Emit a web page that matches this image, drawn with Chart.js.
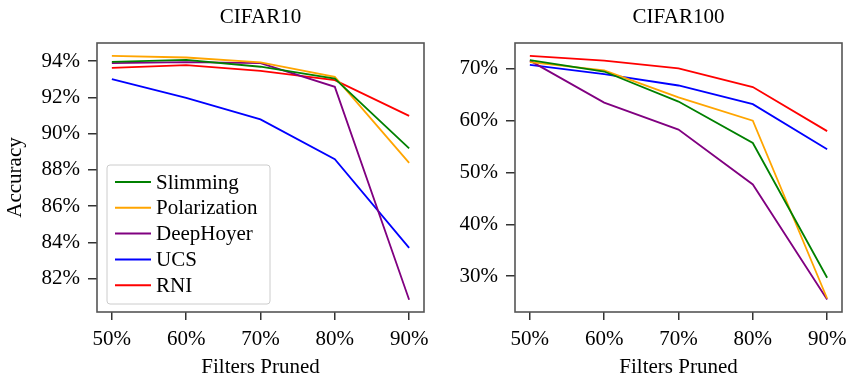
<!DOCTYPE html>
<html>
<head>
<meta charset="utf-8">
<script src="https://cdn.jsdelivr.net/npm/chart.js@4.4.1/dist/chart.umd.min.js"></script>
<style>
  html, body { margin: 0; padding: 0; background: #fff; }
  #wrap { position: relative; width: 847px; height: 374px; }
  canvas { position: absolute; top: 0; }
</style>
</head>
<body>
<div id="wrap">
  <canvas id="left" width="430" height="374" style="left:0"></canvas>
  <canvas id="right" width="417" height="374" style="left:430px"></canvas>
</div>
<script>
// fraction of filters pruned (%)
const pruned = [50, 60, 70, 80, 90];
const methods = ['Slimming', 'Polarization', 'DeepHoyer', 'UCS', 'RNI'];
const colors = ['#008000', '#ffa500', '#800080', '#0000ff', '#ff0000'];

// CIFAR10 accuracy (%)
const c10Slimming = [93.96, 94.07, 93.69, 93.04, 89.18];
const c10Polarization = [94.29, 94.20, 93.93, 93.13, 88.38];
const c10DeepHoyer = [93.89, 93.94, 93.89, 92.58, 80.83];
const c10UCS = [93.00, 91.97, 90.78, 88.59, 83.69];
const c10RNI = [93.63, 93.78, 93.46, 92.95, 90.98];

// CIFAR100 accuracy (%)
const c100Slimming = [71.7, 69.5, 63.7, 55.7, 29.7];
const c100Polarization = [71.3, 69.7, 64.5, 60.0, 25.7];
const c100DeepHoyer = [71.6, 63.5, 58.3, 47.7, 25.5];
const c100UCS = [70.8, 69.0, 66.8, 63.2, 54.5];
const c100RNI = [72.5, 71.6, 70.1, 66.5, 58.0];

Chart.defaults.font.family = "'Liberation Serif', 'Times New Roman', serif";
Chart.defaults.font.size = 21;
Chart.defaults.color = '#000';

const framePlugin = {
  id: 'frame',
  afterDatasetsDraw(chart) {
    const {ctx, chartArea: a} = chart;
    ctx.save();
    ctx.strokeStyle = '#555';
    ctx.lineWidth = 1.6;
    ctx.strokeRect(a.left, a.top, a.right - a.left, a.bottom - a.top);
    ctx.restore();
  }
};

// matplotlib-style legend drawn inside the plot area, lower left
const insideLegend = {
  id: 'insideLegend',
  afterDraw(chart, args, opts) {
    if (!opts.display) return;
    const {ctx, chartArea: a} = chart;
    const sets = chart.data.datasets;
    const w = 163, rowH = 25.8;
    const h = 139;
    const x = a.left + 10, y = a.bottom - 8 - h;
    ctx.save();
    ctx.fillStyle = 'rgba(255,255,255,0.8)';
    ctx.strokeStyle = '#cccccc';
    ctx.lineWidth = 1;
    ctx.beginPath();
    ctx.roundRect(x, y, w, h, 3);
    ctx.fill();
    ctx.stroke();
    ctx.font = "21px 'Liberation Serif', serif";
    ctx.textBaseline = 'middle';
    ctx.fillStyle = '#000';
    sets.forEach((ds, i) => {
      const cy = y + 17 + i * rowH;
      ctx.strokeStyle = ds.borderColor;
      ctx.lineWidth = 2;
      ctx.beginPath();
      ctx.moveTo(x + 8, cy);
      ctx.lineTo(x + 44, cy);
      ctx.stroke();
      ctx.fillText(ds.label, x + 49, cy + 1);
    });
    ctx.restore();
  }
};

function makeChart(id, title, series, yMin, yMax, yStep, yWidth, yTitle, padRight, showLegend) {
  const datasets = series.map((vals, i) => ({
    label: methods[i],
    data: pruned.map((p, j) => ({x: p, y: vals[j]})),
    borderColor: colors[i],
    backgroundColor: colors[i],
    borderWidth: 1.8,
    pointRadius: 0,
    tension: 0
  }));
  return new Chart(document.getElementById(id), {
    type: 'line',
    data: {datasets},
    options: {
      responsive: false,
      animation: false,
      events: [],
      layout: {padding: {right: padRight, left: 0, top: 0, bottom: 0}},
      plugins: {
        legend: {display: false},
        tooltip: {enabled: false},
        insideLegend: {display: showLegend}
      },
      scales: {
        x: {
          type: 'linear', position: 'bottom', min: 48, max: 92,
          ticks: {stepSize: 10, includeBounds: false, padding: 7, callback: v => v + '%'},
          grid: {drawOnChartArea: false, tickLength: 8, color: '#333', lineWidth: 1.5},
          border: {display: false},
          title: {display: true, text: 'Filters Pruned', padding: {top: 0, bottom: -6}},
          afterFit: s => { s.height = 62; s.paddingLeft = 0; s.paddingRight = 0; }
        },
        top: {
          type: 'linear', position: 'top', min: 48, max: 92,
          ticks: {display: false},
          grid: {display: false},
          border: {display: false},
          title: {display: true, text: title, padding: {top: 5, bottom: 0}},
          afterFit: s => { s.height = 43; s.paddingLeft = 0; s.paddingRight = 0; }
        },
        y: {
          type: 'linear', min: yMin, max: yMax,
          ticks: {stepSize: yStep, includeBounds: false, padding: 8, callback: v => v + '%'},
          grid: {drawOnChartArea: false, tickLength: 9, color: '#333', lineWidth: 1.5},
          border: {display: false},
          title: {display: !!yTitle, text: yTitle, padding: {top: 3, bottom: 0}},
          afterFit: s => { s.width = yWidth; }
        }
      }
    },
    plugins: [framePlugin, insideLegend]
  });
}

makeChart('left', 'CIFAR10',
  [c10Slimming, c10Polarization, c10DeepHoyer, c10UCS, c10RNI],
  80.15, 95.0, 2, 97, 'Accuracy', 6, true);
makeChart('right', 'CIFAR100',
  [c100Slimming, c100Polarization, c100DeepHoyer, c100UCS, c100RNI],
  23.1, 75.0, 10, 85, '', 5, false);
</script>
</body>
</html>
